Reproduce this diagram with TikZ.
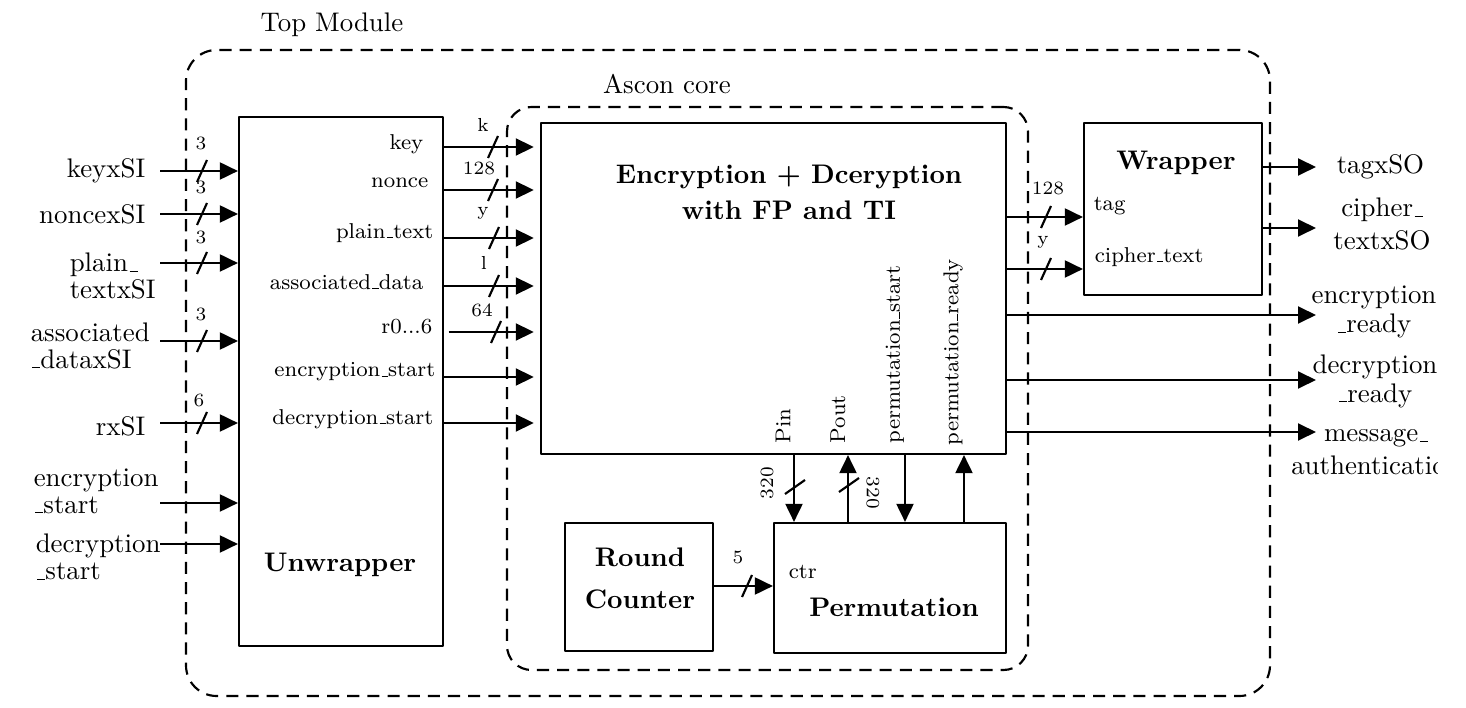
\documentclass[tikz,border=0pt]{standalone}
\usetikzlibrary{arrows.meta,fit,positioning}
\newcommand{\usc}{\leavevmode\kern.06em\vbox{\hrule width.3em}}
\begin{document}
\begin{tikzpicture}[x=0.01308cm, y=-0.01308cm, line join=round, thick,
	>={Triangle[length=6.7pt,width=6.3pt]},
	blk/.style={draw, inner sep=0pt},
	region/.style={draw, dash pattern=on 4.5pt off 3pt, inner sep=0pt},
	lbl/.style={inner sep=1pt},
	port/.style={font=\footnotesize, inner sep=1pt},
	buslbl/.style={font=\scriptsize, inner sep=0pt},
	title/.style={font=\bfseries, align=center},
	pics/bus/.style 2 args={code={\draw (-5,11) -- (5,-11); \node[buslbl] at (#2) {#1};}}]
	\useasboundingbox (0,0) rectangle (1466,708);
	\clip (0,0) rectangle (1437,708);
	% frames
	\node[region, rounded corners=0.4cm, fit={(186,50) (1270,696)}] (top) {};
	\node (toplbl) at (332,25) {Top Module};
	\node[region, rounded corners=0.32cm, fit={(507,107) (1028,670)}] (core) {};
	\node (corelbl) at (667,84) {Ascon core};
	% blocks
	\node[blk, fit={(239,117) (443,646)}] (unw) {};
	\node[title] (unwlbl) at (340,565) {Unwrapper};
	\node[blk, fit={(541,123) (1006,454)}] (enc) {};
	\node[title] (enclbl) at (789,192) {Encryption + Dceryption\\[1.4pt]with FP and TI};
	\node[blk, fit={(1084,123) (1262,295)}] (wrp) {};
	\node[title] (wrplbl) at (1176,163) {Wrapper};
	\node[blk, fit={(565,523) (713,651)}] (rc) {};
	\node[title] (rclbl) at (640,578) {Round\\[3.6pt]Counter};
	\node[blk, fit={(774,523) (1006,653)}] (perm) {};
	\node[title] (permlbl) at (894,607) {Permutation};
	\node[port, anchor=west] (ctrl) at (785,572) {ctr};
	\node[port, anchor=west] (tagl) at (1090,206) {tag};
	\node[port, anchor=west] (ctxtl) at (1091,257) {cipher\usc text};

	% top level inputs
	\coordinate (kin) at (160,171);
	\coordinate (nin) at (160,214);
	\coordinate (ptin) at (160,263);
	\coordinate (adin) at (160,341);
	\coordinate (rin) at (160,423);
	\coordinate (esin) at (160,503);
	\coordinate (dsin) at (160,544);
	\node[lbl, anchor=east] (kinl) at (149,171) {keyxSI};
	\node[lbl, anchor=east] (ninl) at (149,214) {noncexSI};
	\node[lbl, anchor=west, align=left] (ptinl) at (66,276) {plain\usc\\[-2pt]textxSI};
	\node[lbl, anchor=west, align=left] (adinl) at (27,346) {associated\\[-2pt]\usc dataxSI};
	\node[lbl, anchor=east] (rinl) at (149,426) {rxSI};
	\node[lbl, anchor=west, align=left] (esinl) at (30,491) {encryption\\[-2pt]\usc start};
	\node[lbl, anchor=west, align=left] (dsinl) at (32,557) {decryption\\[-2pt]\usc start};
	\draw[->] (kin) -- (kin -| unw.west);
	\draw[->] (nin) -- (nin -| unw.west);
	\draw[->] (ptin) -- (ptin -| unw.west);
	\draw[->] (adin) -- (adin -| unw.west);
	\draw[->] (rin) -- (rin -| unw.west);
	\draw[->] (esin) -- (esin -| unw.west);
	\draw[->] (dsin) -- (dsin -| unw.west);
	\pic at (202,171) {bus={3}{-1,-28}};
	\pic at (202,214) {bus={3}{-1,-27}};
	\pic at (202,263) {bus={3}{-1,-26}};
	\pic at (202,341) {bus={3}{-1,-27}};
	\pic at (202,423) {bus={6}{-3,-23}};

	% unwrapper to core
	\node[port, anchor=east] (ukey) at (427,144) {key};
	\node[port, anchor=east] (unonce) at (432,183) {nonce};
	\node[port, anchor=east] (upt) at (437,233) {plain\usc text};
	\node[port, anchor=east] (uad) at (427,282) {associated\usc data};
	\node[port, anchor=east] (ur) at (436,327) {r0...6};
	\node[port, anchor=east] (ues) at (439,372) {encryption\usc start};
	\node[port, anchor=east] (uds) at (437,419) {decryption\usc start};
	\coordinate (r1) at (0,147);
	\coordinate (r2) at (0,190);
	\coordinate (r3) at (0,238);
	\coordinate (r4) at (0,286);
	\coordinate (r5) at (0,332);
	\coordinate (r6) at (0,377);
	\coordinate (r7) at (0,423);
	\draw[->, shorten >=0.08cm] (r1 -| unw.east) -- (r1 -| enc.west);
	\draw[->, shorten >=0.08cm] (r2 -| unw.east) -- (r2 -| enc.west);
	\draw[->, shorten >=0.08cm] (r3 -| unw.east) -- (r3 -| enc.west);
	\draw[->, shorten >=0.08cm] (r4 -| unw.east) -- (r4 -| enc.west);
	\draw[->, shorten >=0.08cm] ([xshift=0.06cm]r5 -| unw.east) -- (r5 -| enc.west);
	\draw[->, shorten >=0.08cm] (r6 -| unw.east) -- (r6 -| enc.west);
	\draw[->, shorten >=0.08cm] (r7 -| unw.east) -- (r7 -| enc.west);
	\pic at (493,147) {bus={k}{-10,-22}};
	\pic at (493,190) {bus={128}{-14,-22}};
	\pic at (494,238) {bus={y}{-11,-25}};
	\pic at (494,286) {bus={l}{-10,-23}};
	\pic at (496,332) {bus={64}{-14,-22}};

	% core to wrapper
	\coordinate (w1) at (0,217);
	\coordinate (w2) at (0,269);
	\draw[->] (w1 -| enc.east) -- (w1 -| wrp.west);
	\draw[->] (w2 -| enc.east) -- (w2 -| wrp.west);
	\pic at (1046,217) {bus={128}{2,-29}};
	\pic at (1046,269) {bus={y}{-3,-27}};

	% outputs
	\coordinate (tago) at (1316,167);
	\coordinate (cto) at (1316,228);
	\coordinate (ero) at (1316,315);
	\coordinate (dro) at (1316,380);
	\coordinate (mao) at (1316,432);
	\draw[->] (tago -| wrp.east) -- (tago);
	\draw[->] (cto -| wrp.east) -- (cto);
	\draw[->] (ero -| enc.east) -- (ero);
	\draw[->] (dro -| enc.east) -- (dro);
	\draw[->] (mao -| enc.east) -- (mao);
	\node[lbl, anchor=west] (tagol) at (1333,167) {tagxSO};
	\node[lbl, align=center] (ctol) at (1382,224) {cipher\usc\\textxSO};
	\node[lbl, align=center] (erol) at (1374,312) {encryption\\[-1.2pt]\usc ready};
	\node[lbl, align=center] (drol) at (1375,381) {decryption\\[-1.2pt]\usc ready};
	\node[lbl, align=center] (maol) at (1376,452) {message\usc\\authentication};

	% core to permutation
	\coordinate (pin) at (794,0);
	\coordinate (pout) at (848,0);
	\coordinate (pst) at (905,0);
	\coordinate (prd) at (964,0);
	\draw[->] (pin |- enc.south) -- (pin |- perm.north);
	\draw[->] (pout |- perm.north) -- (pout |- enc.south);
	\draw[->] (pst |- enc.south) -- (pst |- perm.north);
	\draw[->] (prd |- perm.north) -- (prd |- enc.south);
	\node[port, rotate=90, anchor=west] (pinl) at (783,447) {Pin};
	\node[port, rotate=90, anchor=west] (poutl) at (838,447) {Pout};
	\node[port, rotate=90, anchor=west] (pstl) at (895,447) {permutation\usc start};
	\node[port, rotate=90, anchor=west] (prdl) at (953,449) {permutation\usc ready};
	\draw (785,494) -- (805,480) (839,492) -- (859,478);
	\node[buslbl, rotate=90] (pinw) at (767,483) {320};
	\node[buslbl, rotate=-90] (poutw) at (873,493) {320};

	% counter to permutation
	\coordinate (c1) at (0,586);
	\draw[->] (c1 -| rc.east) -- (c1 -| perm.west);
	\pic at (747,586) {bus={5}{-9,-29}};
\end{tikzpicture}
\end{document}
